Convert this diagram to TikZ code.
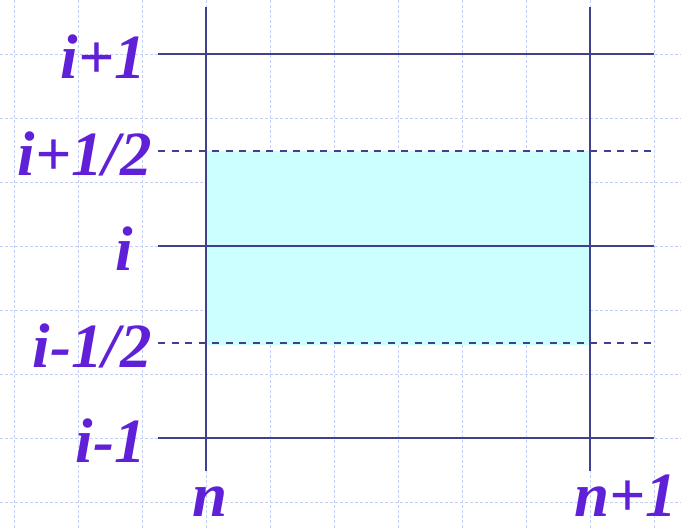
\documentclass[tikz,border=0pt]{standalone}
\usepackage{fontspec}
\setmainfont{Liberation Serif}
\definecolor{gridblue}{HTML}{C4D0F8}
\definecolor{meshline}{HTML}{404090}
\definecolor{labelpurple}{HTML}{6020D8}
\definecolor{cellcyan}{HTML}{CCFFFF}
\newcommand{\labelfont}{\fontsize{63}{70}\selectfont\bfseries\itshape}
\tikzset{
  bggrid/.style={gridblue,line width=0.9pt,dash pattern=on 3pt off 2pt},
  meshsolid/.style={meshline,line width=2pt},
  meshdash/.style={meshline,line width=2pt,dash pattern=on 7pt off 6.5pt},
  gridlabel/.style={inner sep=0pt,text=labelpurple,font=\labelfont},
}

\begin{document}
\begin{tikzpicture}[x=1pt,y=-1pt]
  \useasboundingbox (0,0) rectangle (681,530);

  % background grid
  \foreach \gx in {14,78,...,654}
    \draw[bggrid] (\gx,0) -- (\gx,530);
  \foreach \gy in {54,118,...,502}
    \draw[bggrid] (0,\gy) -- (681,\gy);

  % control volume around i
  \fill[cellcyan] (206,151) rectangle (590,345);

  % mesh lines
  \foreach \hy in {151,343}
    \draw[meshdash] (158,\hy) -- (652,\hy);
  \foreach \ly in {54,246,438}
    \draw[meshsolid] (158,\ly) -- (654,\ly);
  \foreach \vx in {206,590}
    \draw[meshsolid] (\vx,7) -- (\vx,471);

  % index labels
  \node[gridlabel,anchor=base east] (ip1) at (146,78) {i+1};
  \node[gridlabel,anchor=base east] (iph) at (152,175) {i+1/2};
  \node[gridlabel,anchor=base east] (ic) at (133,270) {i};
  \node[gridlabel,anchor=base east] (imh) at (152,367) {i-1/2};
  \node[gridlabel,anchor=base east] (im1) at (146,462) {i-1};
  \node[gridlabel,anchor=base] (tn) at (210,516) {n};
  \node[gridlabel,anchor=base] (tn1) at (626,516) {n+1};
\end{tikzpicture}
\end{document}
